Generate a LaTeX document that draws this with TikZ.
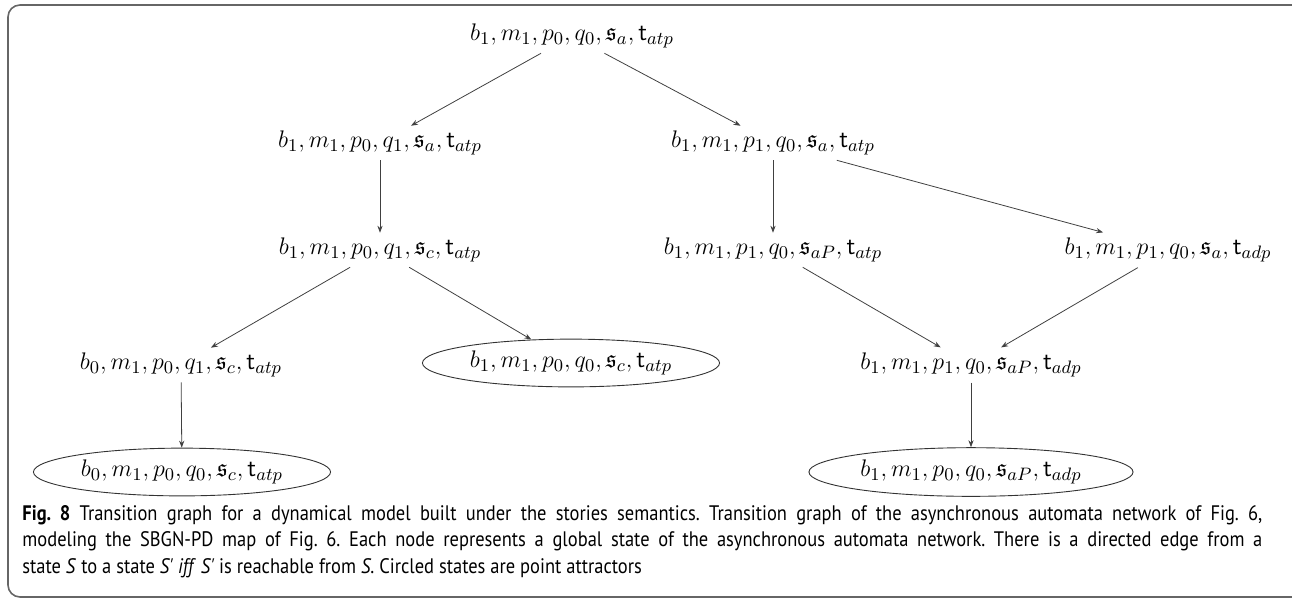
\documentclass[tikz,border=0pt]{standalone}
\usepackage{amssymb}
\usepackage{fontspec}
\newfontfamily\capfont[FakeStretch=0.88]{PT Sans}
\usetikzlibrary{positioning, arrows.meta, shapes.geometric}

\begin{document}
\begin{tikzpicture}[x=0.5pt, y=-0.5pt]
		\tikzset{
			>={Stealth[length=3.5pt, width=2.6pt]},
			state/.style={inner xsep=2pt, inner ysep=2.5pt, font=\fontsize{12.5}{15}\selectfont},
			attractor/.style={state, draw, ellipse, line width=0.45pt, black!80, text=black},
			trans/.style={->, line width=0.4pt, black!75},
			frame/.style={draw, black!60, line width=0.8pt, rounded corners=6pt},
			caption/.style={text width=620pt, align=justify, inner sep=0pt, font=\capfont\fontsize{10.5}{13.2}\selectfont\frenchspacing}
		}
		\useasboundingbox (0,0) rectangle (1292,602);
		
		% Frame
		\draw[frame] (1292,5) -- (8,5) -- (8,597) -- (1292,597);
		
		% States
		\node[state] (s0) at (572,36) { \( b_1, m_1, p_0, q_0, \mathfrak{s}_a, \mathsf{t}_{atp} \) };
		\node[state] (s1) at (380,143) { \( b_1, m_1, p_0, q_1, \mathfrak{s}_a, \mathsf{t}_{atp} \) };
		\node[state] (s2) at (773,143) { \( b_1, m_1, p_1, q_0, \mathfrak{s}_a, \mathsf{t}_{atp} \) };
		\node[state] (s3) at (380,250) { \( b_1, m_1, p_0, q_1, \mathfrak{s}_c, \mathsf{t}_{atp} \) };
		\node[state] (s4) at (773,250) { \( b_1, m_1, p_1, q_0, \mathfrak{s}_{aP}, \mathsf{t}_{atp} \) };
		\node[state] (s5) at (1168,250) { \( b_1, m_1, p_1, q_0, \mathfrak{s}_a, \mathsf{t}_{adp} \) };
		\node[state] (s6) at (181,365) { \( b_0, m_1, p_0, q_1, \mathfrak{s}_c, \mathsf{t}_{atp} \) };
		\node[state] (s8) at (971,365) { \( b_1, m_1, p_1, q_0, \mathfrak{s}_{aP}, \mathsf{t}_{adp} \) };
		
		% Point attractors
		\node[attractor] (s7) at (571,363) { \( b_1, m_1, p_0, q_0, \mathfrak{s}_c, \mathsf{t}_{atp} \) };
		\node[attractor] (s9) at (182,472) { \( b_0, m_1, p_0, q_0, \mathfrak{s}_c, \mathsf{t}_{atp} \) };
		\node[attractor] (s10) at (971,472) { \( b_1, m_1, p_0, q_0, \mathfrak{s}_{aP}, \mathsf{t}_{adp} \) };
		
		% Transitions
		\draw[trans] (s0) -- (s1);
		\draw[trans] (s0) -- (s2);
		\draw[trans] (s1) -- (s3);
		\draw[trans] (s2) -- (s4);
		\draw[trans] (s2) -- (s5);
		\draw[trans] (s3) -- (s6);
		\draw[trans] (s3) -- (s7);
		\draw[trans] (s4) -- (s8);
		\draw[trans] (s5) -- (s8);
		\draw[trans] (s6) -- (s9);
		\draw[trans] (s8) -- (s10);
		
		% Caption
		\node[caption, anchor=north west] (cap) at (22,505) {\textbf{Fig.~8} Transition graph for a dynamical model built under the stories semantics. Transition graph of the asynchronous automata network of Fig.~6,\linebreak modeling the SBGN-PD map of Fig.~6. Each node represents a global state of the asynchronous automata network. There is a directed edge from a\linebreak state \textit{S} to a state \textit{S'} \textit{iff} \textit{S'} is reachable from \textit{S}. Circled states are point attractors};
		
	\end{tikzpicture}
\end{document}
